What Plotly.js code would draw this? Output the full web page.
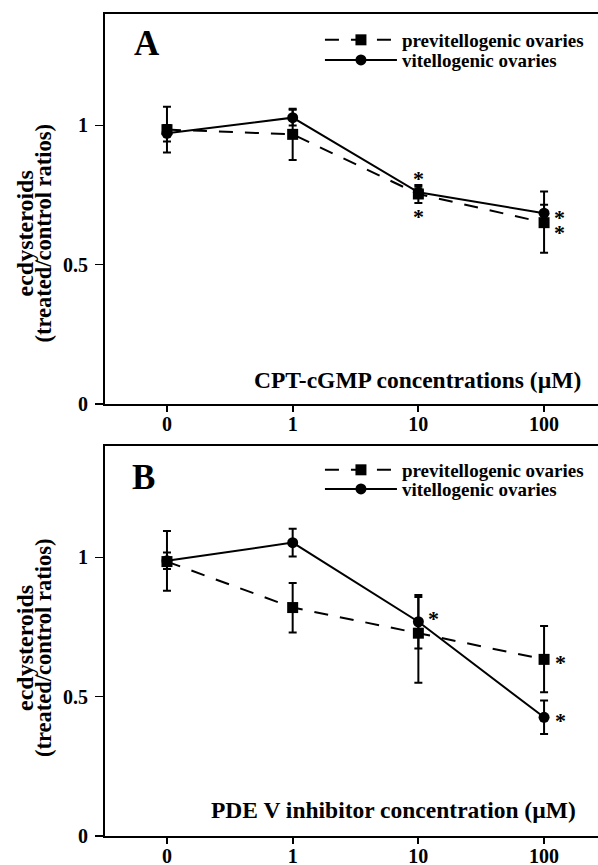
<!DOCTYPE html>
<html>
<head>
<meta charset="utf-8">
<script src="https://cdn.plot.ly/plotly-3.0.1.min.js"></script>
<style>html,body{margin:0;padding:0;background:#fff;overflow:hidden}#chart{width:598px;height:865px}</style>
</head>
<body>
<div id="chart"></div>
<script>
// ---- data ----
const concentrations = ['0', '1', '10', '100'];
const seriesNames = ['previtellogenic ovaries', 'vitellogenic ovaries'];

// Panel A: CPT-cGMP
const aPre = [0.985, 0.968, 0.754, 0.651];
const aPreErrPlus = [0.082, 0.092, 0.032, 0.112];
const aPreErrMinus = [0.082, 0.092, 0.032, 0.108];
const aVit = [0.972, 1.028, 0.760, 0.685];
const aVitErr = [0.03, 0.028, 0.02, 0.03];

// Panel B: PDE V inhibitor
const bPre = [0.985, 0.820, 0.728, 0.634];
const bPreErrPlus = [0.110, 0.088, 0.130, 0.120];
const bPreErrMinus = [0.105, 0.090, 0.178, 0.118];
const bVit = [0.988, 1.053, 0.769, 0.426];
const bVitErr = [0.03, 0.050, 0.096, 0.060];

const titleA = 'CPT-cGMP concentrations (\u00b5M)';
const titleB = 'PDE V inhibitor concentration (\u00b5M)';
const yTitle1 = 'ecdysteroids';
const yTitle2 = '(treated/control ratios)';
const yTickVals = [0, 0.5, 1];
const yTickText = ['0', '0.5', '1'];

// significance asterisks: [panel, series, category index, xshift, yshift]
const stars = [
  ['A', 'vit', 2, 0, 18], ['A', 'pre', 2, 0, -19],
  ['A', 'vit', 3, 15, 0], ['A', 'pre', 3, 15, -6],
  ['B', 'vit', 2, 15, 7], ['B', 'pre', 3, 16, 1], ['B', 'vit', 3, 16, 1]
];

// ---- style ----
const FONT = 'Liberation Serif, Times New Roman, Times, serif';
const BLACK = '#000000';

function trace(vals, plus, minus, isPre, xa, ya, leg) {
  return {
    type: 'scatter', mode: 'lines+markers',
    x: concentrations, y: vals,
    name: isPre ? seriesNames[0] : seriesNames[1],
    xaxis: xa, yaxis: ya, legend: leg,
    line: {color: BLACK, width: 2, dash: isPre ? '14px,12px' : 'solid'},
    marker: {color: BLACK, size: 11, symbol: isPre ? 'square' : 'circle'},
    error_y: {type: 'data', symmetric: false, array: plus, arrayminus: minus,
              color: BLACK, thickness: 2, width: 4},
    cliponaxis: false
  };
}

const data = [
  trace(aPre, aPreErrPlus, aPreErrMinus, true, 'x', 'y', 'legend'),
  trace(aVit, aVitErr, aVitErr, false, 'x', 'y', 'legend2'),
  trace(bPre, bPreErrPlus, bPreErrMinus, true, 'x2', 'y2', 'legend3'),
  trace(bVit, bVitErr, bVitErr, false, 'x2', 'y2', 'legend4')
];

function xAxis(anchor) {
  return {
    anchor: anchor, type: 'category', range: [-0.493, 3.429],
    showline: true, linecolor: BLACK, linewidth: 2, mirror: true,
    ticks: 'outside', ticklen: 6, tickwidth: 2, tickcolor: BLACK,
    ticklabelstandoff: -5,
    showgrid: false, zeroline: false,
    tickfont: {family: FONT, size: 20, color: BLACK, weight: 'bold'},
    fixedrange: true
  };
}
function yAxis(anchor, domain) {
  return {
    anchor: anchor, domain: domain, range: [0, 1.4],
    showline: true, linecolor: BLACK, linewidth: 2,
    ticks: 'outside', ticklen: 8, tickwidth: 1.5, tickcolor: BLACK,
    tickvals: yTickVals, ticktext: yTickText,
    ticklabelstandoff: 3,
    showgrid: false, zeroline: false,
    tickfont: {family: FONT, size: 20, color: BLACK, weight: 'bold'},
    fixedrange: true
  };
}

const annotations = [];
function txt(text, x, y, xref, yref, size, extra) {
  annotations.push(Object.assign({
    text: text, x: x, y: y, xref: xref, yref: yref, showarrow: false,
    xanchor: 'center', yanchor: 'middle',
    font: {family: FONT, size: size, color: BLACK, weight: 'bold'}
  }, extra || {}));
}
// panel letters
txt('A', 0.085, 0.964, 'paper', 'paper', 35);
txt('B', 0.079, 0.4367, 'paper', 'paper', 35);
// x titles inside plots
txt(titleA, 0.633, 0.0615, 'x domain', 'y domain', 23.5);
txt(titleB, 0.586, 0.067, 'x2 domain', 'y2 domain', 23.5);
// y titles (two lines)
[0.733, 0.2287].forEach(function (py) {
  txt(yTitle1, 0, py, 'paper', 'paper', 24, {textangle: -90, xshift: -80});
  txt(yTitle2, 0, py, 'paper', 'paper', 22.5, {textangle: -90, xshift: -62});
});
// asterisks
stars.forEach(function (s) {
  const vals = s[0] === 'A' ? (s[1] === 'pre' ? aPre : aVit) : (s[1] === 'pre' ? bPre : bVit);
  txt('*', s[2], vals[s[2]], s[0] === 'A' ? 'x' : 'x2', s[0] === 'A' ? 'y' : 'y2', 22,
      {xshift: s[3], yshift: s[4] - 4});
});

function legendAt(y) {
  return {
    x: 0.436, y: y, xanchor: 'left', yanchor: 'middle',
    bgcolor: 'rgba(0,0,0,0)', borderwidth: 0,
    font: {family: FONT, size: 19, color: BLACK, weight: 'bold'},
    itemwidth: 72
  };
}

const layout = {
  width: 598, height: 865,
  margin: {l: 105, r: 0, t: 14, b: 29, pad: 0},
  paper_bgcolor: '#ffffff', plot_bgcolor: '#ffffff',
  font: {family: FONT, color: BLACK, weight: 'bold'},
  showlegend: true,
  xaxis: xAxis('y'),
  yaxis: yAxis('x', [0.5255, 1]),
  xaxis2: xAxis('y2'),
  yaxis2: yAxis('x2', [0, 0.4745]),
  legend: legendAt(0.9684),
  legend2: legendAt(0.9440),
  legend3: legendAt(0.4453),
  legend4: legendAt(0.4221),
  annotations: annotations
};

Plotly.newPlot('chart', data, layout, {staticPlot: true, displayModeBar: false});
</script>
</body>
</html>
